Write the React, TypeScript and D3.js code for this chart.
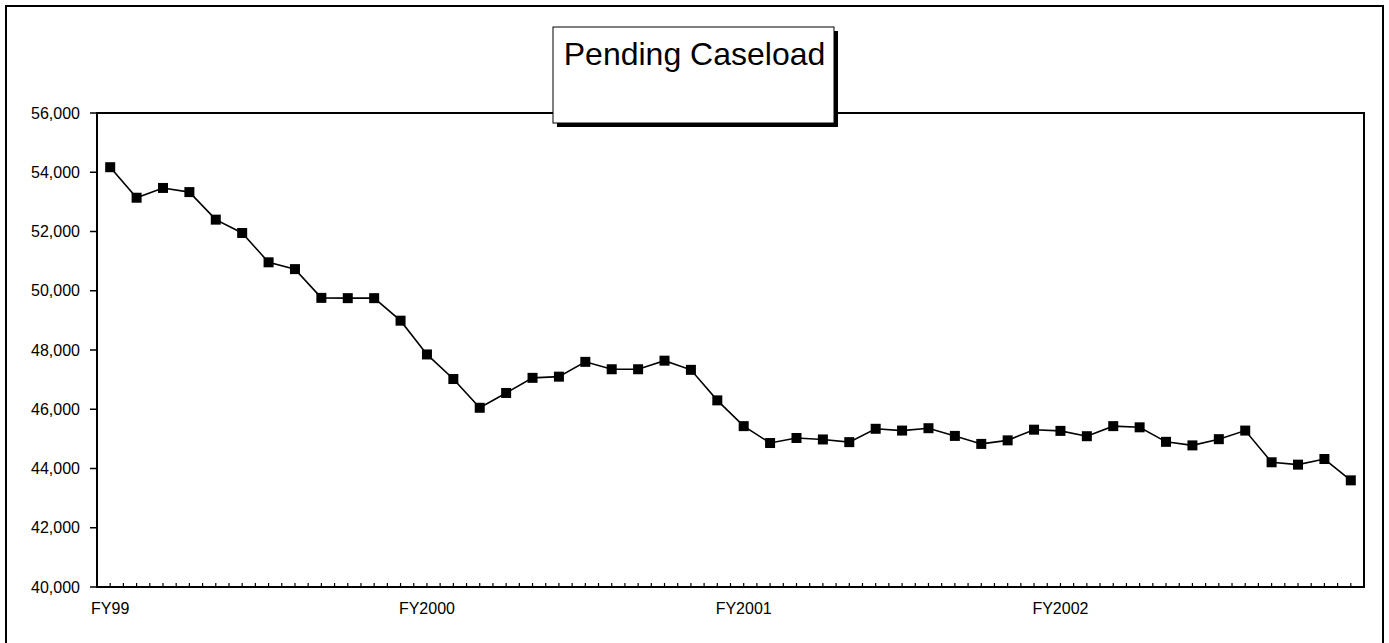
import React from "react";
import * as d3 from "d3";

const TITLE = "Pending Caseload";
const months: number[] = d3.range(48);
const pending: number[] = [
  54170, 53140, 53470, 53330, 52400, 51950, 50960, 50730, 49760, 49750, 49750, 48990,
  47850, 47020, 46050, 46550, 47060, 47100, 47600, 47350, 47350, 47640, 47330, 46300,
  45430, 44860, 45030, 44980, 44890, 45340, 45280, 45360, 45100, 44830, 44950, 45310,
  45270, 45090, 45430, 45390, 44900, 44780, 44990, 45280, 44210, 44130, 44320, 43600,
];
const yearLabels: { index: number; label: string }[] = [
  { index: 0, label: "FY99" },
  { index: 12, label: "FY2000" },
  { index: 24, label: "FY2001" },
  { index: 36, label: "FY2002" },
];
const yTicks: number[] = [40000, 42000, 44000, 46000, 48000, 50000, 52000, 54000, 56000];

const W = 1389;
const H = 643;
const FONT = "'Liberation Sans', Arial, sans-serif";

export default function App() {
  const left = 97, right = 1364, top = 113, bottom = 587;
  const x = d3.scaleBand<number>().domain(months).range([left, right]).padding(0);
  const bw = x.bandwidth();
  const cx = (i: number) => (x(i) as number) + bw / 2;
  const y = d3.scaleLinear().domain([40000, 56000]).range([bottom, top]);
  const line = d3.line<number>().x((_, i) => cx(i)).y((d) => y(d));
  const fmt = d3.format(",");

  const xTickPos: number[] = [];
  months.forEach((m) => {
    if (m > 0) xTickPos.push(x(m) as number);
    xTickPos.push(cx(m));
  });

  const box = { x: 553, y: 27, w: 281, h: 96 };

  return (
    <svg width={W} height={H} style={{ position: "absolute", left: 0, top: 0 }} fontFamily={FONT}>
      <rect x={0} y={0} width={W} height={H} fill="#fff" />
      {/* outer frame */}
      <rect x={6} y={6} width={1377} height={660} fill="none" stroke="#000" strokeWidth={2} />
      {/* plot frame */}
      <rect x={left} y={top} width={right - left} height={bottom - top} fill="#fff" stroke="#000" strokeWidth={2} />
      {/* y ticks and labels */}
      {yTicks.map((t) => (
        <g key={t}>
          <line x1={left - 7} x2={left} y1={y(t)} y2={y(t)} stroke="#000" strokeWidth={1.5} />
          <text x={80} y={y(t)} dy="0.35em" textAnchor="end" fontSize={16} fill="#000">
            {fmt(t)}
          </text>
        </g>
      ))}
      {/* x ticks */}
      {xTickPos.map((p, i) => (
        <line key={i} x1={p} x2={p} y1={bottom} y2={bottom - 4} stroke="#000" strokeWidth={1.2} />
      ))}
      {yearLabels.map((d) => (
        <text key={d.label} x={cx(d.index)} y={614} textAnchor="middle" fontSize={16} fill="#000">
          {d.label}
        </text>
      ))}
      {/* series */}
      <path d={line(pending) || ""} fill="none" stroke="#000" strokeWidth={1.6} />
      {pending.map((v, i) => (
        <rect key={i} x={cx(i) - 5} y={y(v) - 5} width={10} height={10} fill="#000" />
      ))}
      {/* title box */}
      <rect x={box.x + 4} y={box.y + 4} width={box.w} height={box.h} fill="#000" />
      <rect x={box.x} y={box.y} width={box.w} height={box.h} fill="#fff" stroke="#000" strokeWidth={1} />
      <text x={box.x + box.w / 2 + 1} y={65} textAnchor="middle" fontSize={32} fill="#000">
        {TITLE}
      </text>
    </svg>
  );
}
